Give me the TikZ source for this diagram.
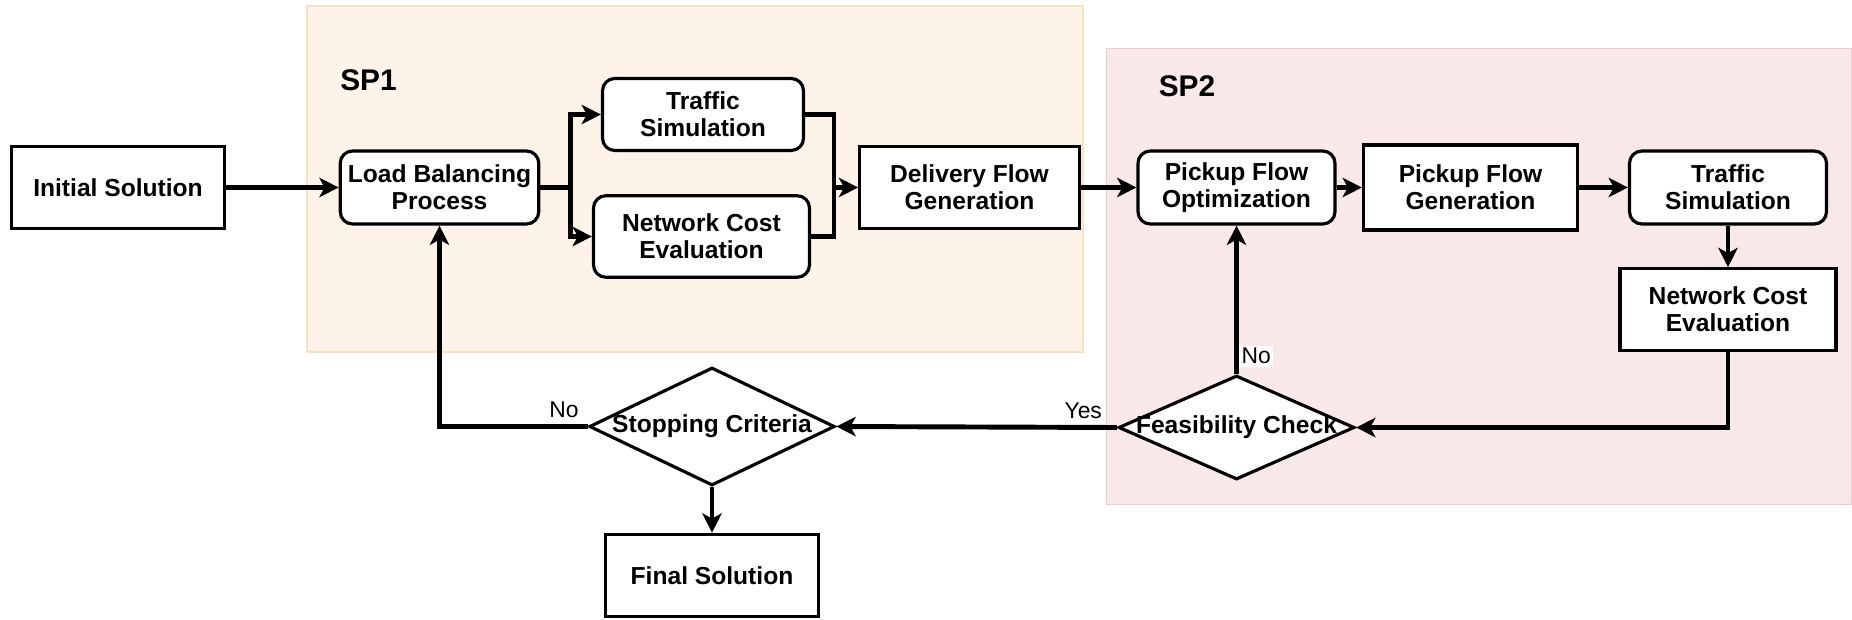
\documentclass[tikz,border=0pt]{standalone}
\usepackage{fontspec}
\setmainfont{Liberation Sans}
\usepackage{xcolor}
\usetikzlibrary{arrows.meta,shapes.geometric}
\definecolor{spone}{HTML}{FDF3E9}
\definecolor{sponeline}{HTML}{F7E3C4}
\definecolor{sptwo}{HTML}{F9E8E8}
\definecolor{sptwoline}{HTML}{EDCBCB}

\begin{document}
\begin{tikzpicture}[
  boxtext/.style={font=\bfseries\fontsize{14}{15.5}\selectfont},
  box/.style={boxtext, draw, line width=1.8pt, align=center, fill=white, inner sep=2pt},
  softbox/.style={box, rounded corners=7pt},
  decision/.style={diamond, draw, line width=1.8pt, fill=white, inner sep=0pt},
  line/.style={line width=2.8pt},
  flow/.style={line, -{Stealth[length=11pt,width=11pt,inset=3pt]}},
  answer/.style={font=\fontsize{13}{15}\selectfont, inner sep=1.5pt},
  sptitle/.style={font=\bfseries\fontsize{17}{20}\selectfont}
]
  \useasboundingbox (0,0) rectangle (37.04,12.38);
  \draw[fill=spone, draw=sponeline, line width=0.6pt] (6.14,5.34) rectangle (21.66,12.26);
  \draw[fill=sptwo, draw=sptwoline, line width=0.6pt] (22.13,2.29) rectangle (37.02,11.41);
  \node[sptitle] (spa) at (7.37,10.77) {SP1};
  \node[sptitle] (spb) at (23.74,10.65) {SP2};

  \node[box, minimum width=4.25cm, minimum height=1.65cm] (init) at (2.36,8.63) {Initial Solution};
  \node[softbox, minimum width=3.97cm, minimum height=1.46cm] (lb) at (8.79,8.63) {Load Balancing\\Process};
  \node[softbox, minimum width=4.02cm, minimum height=1.44cm] (tsa) at (14.06,10.09) {Traffic\\Simulation};
  \node[softbox, minimum width=4.32cm, minimum height=1.63cm] (nca) at (14.03,7.65) {Network Cost\\Evaluation};
  \node[box, minimum width=4.39cm, minimum height=1.65cm] (dfg) at (19.39,8.63) {Delivery Flow\\Generation};
  \node[softbox, minimum width=3.94cm, minimum height=1.46cm] (pfo) at (24.73,8.63) {Pickup Flow\\Optimization};
  \node[box, minimum width=4.28cm, minimum height=1.70cm] (pfg) at (29.41,8.63) {Pickup Flow\\Generation};
  \node[softbox, minimum width=3.94cm, minimum height=1.46cm] (tsb) at (34.56,8.63) {Traffic\\Simulation};
  \node[box, minimum width=4.32cm, minimum height=1.63cm] (ncb) at (34.56,6.19) {Network Cost\\Evaluation};
  \node[decision, minimum width=4.72cm, minimum height=2.08cm,
        label={[boxtext]center:Feasibility Check}] (fc) at (24.73,3.83) {};
  \node[decision, minimum width=4.91cm, minimum height=2.36cm,
        label={[boxtext]center:Stopping Criteria}] (sc) at (14.24,3.85) {};
  \node[box, minimum width=4.25cm, minimum height=1.65cm] (fs) at (14.24,0.87) {Final Solution};

  \coordinate (split) at (11.41,8.63);
  \coordinate (join) at (16.68,8.63);

  \draw[flow] (init) -- (lb);
  \draw[line] (lb) -- (split);
  \draw[flow] (split) |- (tsa);
  \draw[flow] (split) |- (nca);
  \draw[line] (tsa) -| (join);
  \draw[line] (nca) -| (join);
  \draw[flow] (join) -- (dfg);
  \draw[flow] (dfg) -- (pfo);
  \draw[flow] (pfo) -- (pfg);
  \draw[flow] (pfg) -- (tsb);
  \draw[flow] (tsb) -- (ncb);
  \draw[flow] (ncb.south) |- (fc.east);
  \draw[flow] (fc.north) -- node[answer, pos=0.12, right, fill=white] (fcno) {No} (pfo.south);
  \draw[flow] (fc.west) -- node[answer, pos=0.12, above=2pt] (fcyes) {Yes} (sc.east);
  \draw[flow] (sc.west) -| node[answer, pos=0.08, above=2pt] (scno) {No} (lb.south);
  \draw[flow] (sc.south) -- (fs.north);
\end{tikzpicture}
\end{document}
